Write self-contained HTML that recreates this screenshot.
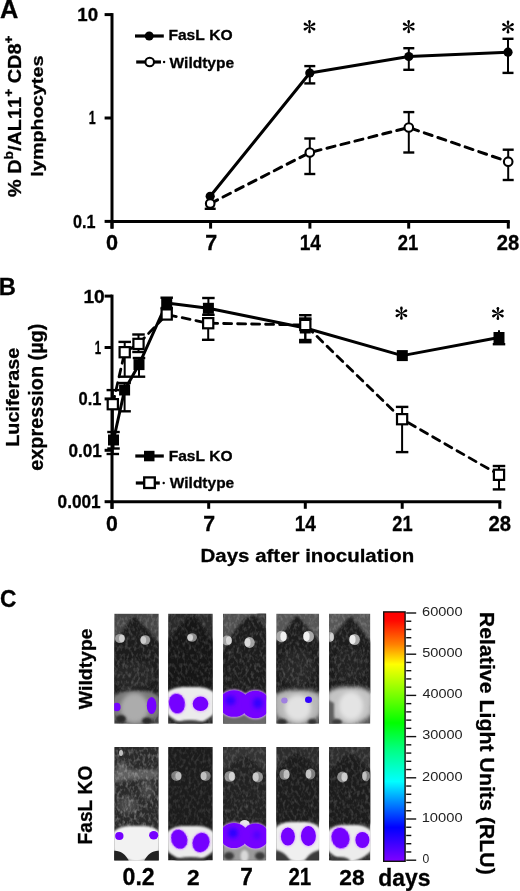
<!DOCTYPE html>
<html><head><meta charset="utf-8"><title>Figure</title>
<style>
html,body{margin:0;padding:0;background:#fff;}
body{width:520px;height:891px;overflow:hidden;}
svg{display:block;filter:blur(0.4px);}
text{font-family:"Liberation Sans", sans-serif;font-kerning:none;} text[font-weight="bold"]{stroke:#000;stroke-width:0.3px;}
</style></head>
<body>
<svg width="520" height="891" viewBox="0 0 520 891">
<defs>
<filter id="b05" x="-50%" y="-50%" width="200%" height="200%"><feGaussianBlur stdDeviation="0.5"/></filter>
<filter id="b1" x="-50%" y="-50%" width="200%" height="200%"><feGaussianBlur stdDeviation="1"/></filter>
<filter id="b15" x="-50%" y="-50%" width="200%" height="200%"><feGaussianBlur stdDeviation="1.5"/></filter>
<filter id="b2" x="-50%" y="-50%" width="200%" height="200%"><feGaussianBlur stdDeviation="2.2"/></filter>
<filter id="fur" x="0" y="0" width="100%" height="100%" filterUnits="objectBoundingBox">
<feTurbulence type="fractalNoise" baseFrequency="0.35 0.22" numOctaves="2" seed="7" result="n"/>
<feColorMatrix in="n" type="matrix" values="0 0 0 0 1  0 0 0 0 1  0 0 0 0 1  2.2 0 0 0 -0.95"/>
<feComposite in2="SourceGraphic" operator="in"/>
</filter>
<linearGradient id="cbar" x1="0" y1="0" x2="0" y2="1">
<stop offset="0" stop-color="#ff0000"/>
<stop offset="0.035" stop-color="#ff0800"/>
<stop offset="0.13" stop-color="#ff8000"/>
<stop offset="0.21" stop-color="#ffff00"/>
<stop offset="0.445" stop-color="#00ff00"/>
<stop offset="0.55" stop-color="#00ff80"/>
<stop offset="0.68" stop-color="#00ffff"/>
<stop offset="0.77" stop-color="#0080ff"/>
<stop offset="0.864" stop-color="#0000ff"/>
<stop offset="1" stop-color="#8000ff"/>
</linearGradient>
<g id="ast"><g transform="rotate(0)"><path d="M-0.3,0 L-1.25,-4.9 L1.25,-4.9 L0.3,0 Z"/><circle cx="0" cy="-5.3" r="1.3"/></g><g transform="rotate(60)"><path d="M-0.3,0 L-1.25,-4.9 L1.25,-4.9 L0.3,0 Z"/><circle cx="0" cy="-5.3" r="1.3"/></g><g transform="rotate(120)"><path d="M-0.3,0 L-1.25,-4.9 L1.25,-4.9 L0.3,0 Z"/><circle cx="0" cy="-5.3" r="1.3"/></g><g transform="rotate(180)"><path d="M-0.3,0 L-1.25,-4.9 L1.25,-4.9 L0.3,0 Z"/><circle cx="0" cy="-5.3" r="1.3"/></g><g transform="rotate(240)"><path d="M-0.3,0 L-1.25,-4.9 L1.25,-4.9 L0.3,0 Z"/><circle cx="0" cy="-5.3" r="1.3"/></g><g transform="rotate(300)"><path d="M-0.3,0 L-1.25,-4.9 L1.25,-4.9 L0.3,0 Z"/><circle cx="0" cy="-5.3" r="1.3"/></g></g>
</defs>
<rect x="0" y="0" width="520" height="891" fill="#fff"/>
<g opacity="0.999">
<text transform="translate(0.12,17.55) scale(0.9855,1)" font-size="25.75" font-weight="bold" fill="#000">A</text>
<line x1="112.0" y1="13.1" x2="112.0" y2="228.6" stroke="#000" stroke-width="3" />
<line x1="104.6" y1="14.6" x2="112.0" y2="14.6" stroke="#000" stroke-width="3" />
<line x1="104.6" y1="118.0" x2="112.0" y2="118.0" stroke="#000" stroke-width="3" />
<line x1="104.6" y1="221.4" x2="112.0" y2="221.4" stroke="#000" stroke-width="3" />
<line x1="112.0" y1="221.4" x2="509.8" y2="221.4" stroke="#000" stroke-width="3" />
<line x1="112.0" y1="221.4" x2="112.0" y2="228.6" stroke="#000" stroke-width="3" />
<line x1="210.6" y1="221.4" x2="210.6" y2="228.6" stroke="#000" stroke-width="3" />
<line x1="309.9" y1="221.4" x2="309.9" y2="228.6" stroke="#000" stroke-width="3" />
<line x1="408.7" y1="221.4" x2="408.7" y2="228.6" stroke="#000" stroke-width="3" />
<line x1="508.3" y1="221.4" x2="508.3" y2="228.6" stroke="#000" stroke-width="3" />
<text transform="translate(77.28,20.67) scale(1.0647,1)" font-size="17.53" font-weight="bold" fill="#000">10</text>
<text transform="translate(88.77,124.15) scale(0.6860,1)" font-size="18.18" font-weight="bold" fill="#000">1</text>
<text transform="translate(73.00,227.56) scale(0.8739,1)" font-size="18.52" font-weight="bold" fill="#000">0.1</text>
<text transform="translate(106.08,250.23) scale(0.9710,1)" font-size="22.33" font-weight="bold" fill="#000">0</text>
<text transform="translate(205.34,250.25) scale(0.9470,1)" font-size="22.69" font-weight="bold" fill="#000">7</text>
<text transform="translate(299.66,249.95) scale(0.8749,1)" font-size="21.82" font-weight="bold" fill="#000">14</text>
<text transform="translate(397.81,250.25) scale(0.8291,1)" font-size="22.22" font-weight="bold" fill="#000">21</text>
<text transform="translate(496.74,250.23) scale(0.9099,1)" font-size="22.19" font-weight="bold" fill="#000">28</text>
<line x1="309.8" y1="138.5" x2="309.8" y2="174.0" stroke="#000" stroke-width="2.0"/>
<line x1="304.3" y1="138.5" x2="315.3" y2="138.5" stroke="#000" stroke-width="2.4"/>
<line x1="304.3" y1="174.0" x2="315.3" y2="174.0" stroke="#000" stroke-width="2.4"/>
<line x1="408.8" y1="112.1" x2="408.8" y2="152.5" stroke="#000" stroke-width="2.0"/>
<line x1="403.3" y1="112.1" x2="414.3" y2="112.1" stroke="#000" stroke-width="2.4"/>
<line x1="403.3" y1="152.5" x2="414.3" y2="152.5" stroke="#000" stroke-width="2.4"/>
<line x1="508.2" y1="149.7" x2="508.2" y2="180.0" stroke="#000" stroke-width="2.0"/>
<line x1="502.7" y1="149.7" x2="513.7" y2="149.7" stroke="#000" stroke-width="2.4"/>
<line x1="502.7" y1="180.0" x2="513.7" y2="180.0" stroke="#000" stroke-width="2.4"/>
<line x1="204.7" y1="208.8" x2="215.7" y2="208.8" stroke="#000" stroke-width="2.4"/>
<line x1="210.2" y1="203.6" x2="210.2" y2="208.8" stroke="#000" stroke-width="2" />
<line x1="309.8" y1="66.1" x2="309.8" y2="83.4" stroke="#000" stroke-width="2.0"/>
<line x1="304.3" y1="66.1" x2="315.3" y2="66.1" stroke="#000" stroke-width="2.4"/>
<line x1="304.3" y1="83.4" x2="315.3" y2="83.4" stroke="#000" stroke-width="2.4"/>
<line x1="408.8" y1="48.2" x2="408.8" y2="69.8" stroke="#000" stroke-width="2.0"/>
<line x1="403.3" y1="48.2" x2="414.3" y2="48.2" stroke="#000" stroke-width="2.4"/>
<line x1="403.3" y1="69.8" x2="414.3" y2="69.8" stroke="#000" stroke-width="2.4"/>
<line x1="508.0" y1="38.8" x2="508.0" y2="72.9" stroke="#000" stroke-width="2.0"/>
<line x1="502.5" y1="38.8" x2="513.5" y2="38.8" stroke="#000" stroke-width="2.4"/>
<line x1="502.5" y1="72.9" x2="513.5" y2="72.9" stroke="#000" stroke-width="2.4"/>
<polyline points="210.2,203.6 309.8,152.5 408.8,127.5 508.2,161.7" fill="none" stroke="#000" stroke-width="3" stroke-linejoin="round" stroke-linecap="round" stroke-dasharray="8.3 6.1"/>
<polyline points="210.2,196.3 309.8,73.0 408.8,56.5 508.0,52.2" fill="none" stroke="#000" stroke-width="3" stroke-linejoin="round" stroke-linecap="butt"/>
<circle cx="210.2" cy="196.3" r="4.6" fill="#000"/>
<circle cx="309.8" cy="73.0" r="4.6" fill="#000"/>
<circle cx="408.8" cy="56.5" r="4.6" fill="#000"/>
<circle cx="508.0" cy="52.2" r="4.6" fill="#000"/>
<circle cx="210.2" cy="203.6" r="4.3" fill="#fff" stroke="#000" stroke-width="2.1"/>
<circle cx="309.8" cy="152.5" r="4.3" fill="#fff" stroke="#000" stroke-width="2.1"/>
<circle cx="408.8" cy="127.5" r="4.3" fill="#fff" stroke="#000" stroke-width="2.1"/>
<circle cx="508.2" cy="161.7" r="4.3" fill="#fff" stroke="#000" stroke-width="2.1"/>
<use href="#ast" transform="translate(309.5,26.6) scale(1.0)"/>
<use href="#ast" transform="translate(408.7,26.6) scale(1.0)"/>
<use href="#ast" transform="translate(508.0,27.0) scale(1.0)"/>
<line x1="135.0" y1="36.0" x2="163.8" y2="36.0" stroke="#000" stroke-width="3.2" />
<circle cx="149.2" cy="36.0" r="4.5" fill="#000"/>
<line x1="136.2" y1="62" x2="161" y2="62" stroke="#000" stroke-width="3.2" stroke-dasharray="0"/>
<circle cx="164.1" cy="62" r="1.2" fill="#000"/>
<circle cx="149.7" cy="62" r="4.3" fill="#fff" stroke="#000" stroke-width="2.1"/>
<text transform="translate(168.40,40.20) scale(1.0625,1)" font-size="14.70" font-weight="bold" fill="#000">FasL KO</text>
<text transform="translate(169.41,67.65) scale(1.0069,1)" font-size="15.44" font-weight="bold" fill="#000">Wildtype</text>
<text transform="translate(21.45,197.05) rotate(-90) scale(1.0631,1)" font-size="18.75" font-weight="bold" xml:space="preserve"><tspan font-size="18.75">% D</tspan><tspan font-size="12.80" dy="-8.25">b</tspan><tspan font-size="18.75" dy="8.25">/AL11</tspan><tspan font-size="12.80" dy="-8.25">+</tspan><tspan font-size="18.75" dy="8.25"> CD8</tspan><tspan font-size="12.80" dy="-8.25">+</tspan></text>
<text transform="translate(43.00,176.64) rotate(-90) scale(1.1733,1)" font-size="16.90" font-weight="bold" fill="#000">lymphocytes</text>
<text transform="translate(-1.15,295.35) scale(0.9670,1)" font-size="24.58" font-weight="bold" fill="#000">B</text>
<line x1="112.0" y1="294.6" x2="112.0" y2="508.8" stroke="#000" stroke-width="3" />
<line x1="104.6" y1="296.1" x2="112.0" y2="296.1" stroke="#000" stroke-width="3" />
<line x1="104.6" y1="347.5" x2="112.0" y2="347.5" stroke="#000" stroke-width="3" />
<line x1="104.6" y1="398.9" x2="112.0" y2="398.9" stroke="#000" stroke-width="3" />
<line x1="104.6" y1="450.3" x2="112.0" y2="450.3" stroke="#000" stroke-width="3" />
<line x1="104.6" y1="501.7" x2="112.0" y2="501.7" stroke="#000" stroke-width="3" />
<line x1="112.0" y1="501.8" x2="501.3" y2="501.8" stroke="#000" stroke-width="3" />
<line x1="112.0" y1="501.8" x2="112.0" y2="508.8" stroke="#000" stroke-width="3" />
<line x1="208.7" y1="501.8" x2="208.7" y2="508.8" stroke="#000" stroke-width="3" />
<line x1="305.3" y1="501.8" x2="305.3" y2="508.8" stroke="#000" stroke-width="3" />
<line x1="402.2" y1="501.8" x2="402.2" y2="508.8" stroke="#000" stroke-width="3" />
<line x1="499.8" y1="501.8" x2="499.8" y2="508.8" stroke="#000" stroke-width="3" />
<text transform="translate(83.45,302.57) scale(1.0672,1)" font-size="17.95" font-weight="bold" fill="#000">10</text>
<text transform="translate(94.74,353.55) scale(0.6074,1)" font-size="18.76" font-weight="bold" fill="#000">1</text>
<text transform="translate(78.59,405.36) scale(0.8769,1)" font-size="18.80" font-weight="bold" fill="#000">0.1</text>
<text transform="translate(68.46,456.57) scale(0.9334,1)" font-size="18.37" font-weight="bold" fill="#000">0.01</text>
<text transform="translate(57.56,507.87) scale(0.9387,1)" font-size="18.37" font-weight="bold" fill="#000">0.001</text>
<text transform="translate(105.90,531.12) scale(0.9344,1)" font-size="22.76" font-weight="bold" fill="#000">0</text>
<text transform="translate(203.25,530.85) scale(0.9377,1)" font-size="22.69" font-weight="bold" fill="#000">7</text>
<text transform="translate(294.76,530.85) scale(0.8522,1)" font-size="22.40" font-weight="bold" fill="#000">14</text>
<text transform="translate(392.31,530.85) scale(0.8259,1)" font-size="22.08" font-weight="bold" fill="#000">21</text>
<text transform="translate(488.54,530.64) scale(0.9505,1)" font-size="21.34" font-weight="bold" fill="#000">28</text>
<text transform="translate(200.57,562.07) scale(1.0661,1)" font-size="19.20" font-weight="bold" fill="#000">Days after inoculation</text>
<line x1="113.5" y1="432.0" x2="113.5" y2="448.5" stroke="#000" stroke-width="2.0"/>
<line x1="107.25" y1="432.0" x2="119.75" y2="432.0" stroke="#000" stroke-width="2.4"/>
<line x1="107.25" y1="448.5" x2="119.75" y2="448.5" stroke="#000" stroke-width="2.4"/>
<line x1="124.6" y1="383.0" x2="124.6" y2="411.3" stroke="#000" stroke-width="2.0"/>
<line x1="118.35" y1="383.0" x2="130.85" y2="383.0" stroke="#000" stroke-width="2.4"/>
<line x1="118.35" y1="411.3" x2="130.85" y2="411.3" stroke="#000" stroke-width="2.4"/>
<line x1="139.0" y1="358.0" x2="139.0" y2="376.7" stroke="#000" stroke-width="2.0"/>
<line x1="132.75" y1="358.0" x2="145.25" y2="358.0" stroke="#000" stroke-width="2.4"/>
<line x1="132.75" y1="376.7" x2="145.25" y2="376.7" stroke="#000" stroke-width="2.4"/>
<line x1="166.7" y1="297.7" x2="166.7" y2="308.0" stroke="#000" stroke-width="2.0"/>
<line x1="160.45" y1="297.7" x2="172.95" y2="297.7" stroke="#000" stroke-width="2.4"/>
<line x1="160.45" y1="308.0" x2="172.95" y2="308.0" stroke="#000" stroke-width="2.4"/>
<line x1="208.4" y1="298.0" x2="208.4" y2="314.8" stroke="#000" stroke-width="2.0"/>
<line x1="202.15" y1="298.0" x2="214.65" y2="298.0" stroke="#000" stroke-width="2.4"/>
<line x1="202.15" y1="314.8" x2="214.65" y2="314.8" stroke="#000" stroke-width="2.4"/>
<line x1="305.3" y1="315.2" x2="305.3" y2="342.2" stroke="#000" stroke-width="2.0"/>
<line x1="299.05" y1="315.2" x2="311.55" y2="315.2" stroke="#000" stroke-width="2.4"/>
<line x1="299.05" y1="342.2" x2="311.55" y2="342.2" stroke="#000" stroke-width="2.4"/>
<line x1="492.75" y1="344.2" x2="505.25" y2="344.2" stroke="#000" stroke-width="2.4"/>
<line x1="499.0" y1="330.2" x2="499.0" y2="344.2" stroke="#000" stroke-width="2" />
<line x1="112.8" y1="390.1" x2="112.8" y2="454.0" stroke="#000" stroke-width="2.0"/>
<line x1="106.55" y1="390.1" x2="119.05" y2="390.1" stroke="#000" stroke-width="2.4"/>
<line x1="106.55" y1="454.0" x2="119.05" y2="454.0" stroke="#000" stroke-width="2.4"/>
<line x1="124.7" y1="341.9" x2="124.7" y2="376.7" stroke="#000" stroke-width="2.0"/>
<line x1="118.45" y1="341.9" x2="130.95" y2="341.9" stroke="#000" stroke-width="2.4"/>
<line x1="118.45" y1="376.7" x2="130.95" y2="376.7" stroke="#000" stroke-width="2.4"/>
<line x1="138.5" y1="334.5" x2="138.5" y2="352.0" stroke="#000" stroke-width="2.0"/>
<line x1="132.25" y1="334.5" x2="144.75" y2="334.5" stroke="#000" stroke-width="2.4"/>
<line x1="132.25" y1="352.0" x2="144.75" y2="352.0" stroke="#000" stroke-width="2.4"/>
<line x1="201.95" y1="339.8" x2="214.45" y2="339.8" stroke="#000" stroke-width="2.4"/>
<line x1="208.2" y1="325.8" x2="208.2" y2="339.8" stroke="#000" stroke-width="2" />
<line x1="305.3" y1="318.5" x2="305.3" y2="340.0" stroke="#000" stroke-width="2.0"/>
<line x1="299.05" y1="318.5" x2="311.55" y2="318.5" stroke="#000" stroke-width="2.4"/>
<line x1="299.05" y1="340.0" x2="311.55" y2="340.0" stroke="#000" stroke-width="2.4"/>
<line x1="402.1" y1="406.9" x2="402.1" y2="452.1" stroke="#000" stroke-width="2.0"/>
<line x1="395.85" y1="406.9" x2="408.35" y2="406.9" stroke="#000" stroke-width="2.4"/>
<line x1="395.85" y1="452.1" x2="408.35" y2="452.1" stroke="#000" stroke-width="2.4"/>
<line x1="499.0" y1="466.0" x2="499.0" y2="489.4" stroke="#000" stroke-width="2.0"/>
<line x1="492.75" y1="466.0" x2="505.25" y2="466.0" stroke="#000" stroke-width="2.4"/>
<line x1="492.75" y1="489.4" x2="505.25" y2="489.4" stroke="#000" stroke-width="2.4"/>
<polyline points="112.8,404.2 124.7,352.2 138.5,343.9 166.7,314.5 208.2,323.2 305.3,325.0 402.1,419.2 499.0,474.8" fill="none" stroke="#000" stroke-width="2.8" stroke-linejoin="round" stroke-linecap="round" stroke-dasharray="8 6"/>
<polyline points="113.5,440.0 124.6,390.0 139.0,364.6 166.7,303.0 208.4,308.3 305.3,328.0 402.3,355.6 499.0,337.5" fill="none" stroke="#000" stroke-width="3" stroke-linejoin="round" stroke-linecap="butt"/>
<rect x="108.0" y="434.5" width="11" height="11" fill="#000"/>
<rect x="119.1" y="384.5" width="11" height="11" fill="#000"/>
<rect x="133.5" y="359.1" width="11" height="11" fill="#000"/>
<rect x="161.2" y="297.5" width="11" height="11" fill="#000"/>
<rect x="202.9" y="302.8" width="11" height="11" fill="#000"/>
<rect x="299.8" y="322.5" width="11" height="11" fill="#000"/>
<rect x="396.8" y="350.1" width="11" height="11" fill="#000"/>
<rect x="493.5" y="332.0" width="11" height="11" fill="#000"/>
<rect x="107.7" y="399.1" width="10.2" height="10.2" fill="#fff" stroke="#000" stroke-width="2.2"/>
<rect x="119.6" y="347.1" width="10.2" height="10.2" fill="#fff" stroke="#000" stroke-width="2.2"/>
<rect x="133.4" y="338.8" width="10.2" height="10.2" fill="#fff" stroke="#000" stroke-width="2.2"/>
<rect x="161.6" y="309.4" width="10.2" height="10.2" fill="#fff" stroke="#000" stroke-width="2.2"/>
<rect x="203.1" y="318.1" width="10.2" height="10.2" fill="#fff" stroke="#000" stroke-width="2.2"/>
<rect x="300.2" y="319.9" width="10.2" height="10.2" fill="#fff" stroke="#000" stroke-width="2.2"/>
<rect x="397.0" y="414.1" width="10.2" height="10.2" fill="#fff" stroke="#000" stroke-width="2.2"/>
<rect x="493.9" y="469.7" width="10.2" height="10.2" fill="#fff" stroke="#000" stroke-width="2.2"/>
<use href="#ast" transform="translate(401.4,313.2) scale(1.0)"/>
<use href="#ast" transform="translate(497.9,313.5) scale(1.0)"/>
<line x1="135.3" y1="456.0" x2="163.8" y2="456.0" stroke="#000" stroke-width="3.2" />
<rect x="144.0" y="450.8" width="10.5" height="10.5" fill="#000"/>
<line x1="135.8" y1="483.0" x2="159.8" y2="483.0" stroke="#000" stroke-width="3.2" />
<circle cx="163.7" cy="483" r="1.2" fill="#000"/>
<rect x="144.2" y="477.4" width="10.6" height="10.6" fill="#fff" stroke="#000" stroke-width="2.3"/>
<text transform="translate(168.70,460.60) scale(1.0676,1)" font-size="14.56" font-weight="bold" fill="#000">FasL KO</text>
<text transform="translate(169.71,487.57) scale(1.0092,1)" font-size="15.34" font-weight="bold" fill="#000">Wildtype</text>
<text transform="translate(18.76,446.79) rotate(-90) scale(1.0473,1)" font-size="18.91" font-weight="bold" fill="#000">Luciferase</text>
<text transform="translate(42.75,470.74) rotate(-90) scale(1.0281,1)" font-size="19.31" font-weight="bold" fill="#000">expression (µg)</text>
<text transform="translate(-0.06,607.01) scale(0.9357,1)" font-size="24.31" font-weight="bold" fill="#000">C</text>
<text transform="translate(92.16,709.20) rotate(-90) scale(1.0887,1)" font-size="17.80" font-weight="bold" fill="#000">Wildtype</text>
<text transform="translate(92.30,844.44) rotate(-90) scale(0.9803,1)" font-size="19.57" font-weight="bold" fill="#000">FasL KO</text>
<clipPath id="clip00"><rect x="114.2" y="613.6" width="44.6" height="110.2"/></clipPath>
<g clip-path="url(#clip00)">
<rect x="114.2" y="613.6" width="44.60000000000001" height="110.19999999999993" fill="#464646"/>
<path d="M134.0,616.5 C137.0,617.0 150.8,633.4 159.8,643.4 L159.8,701.8 L113.2,701.8 L113.2,643.4 C122.2,633.4 131.0,617.0 134.0,616.5 Z" fill="#1e1e1e" filter="url(#b1)"/>
<ellipse cx="134" cy="675" rx="20" ry="14" fill="#282828" filter="url(#b2)"/>
<rect x="114.2" y="613.6" width="44.6" height="110.2" fill="#fff" filter="url(#fur)" opacity="0.22"/>
<path d="M112.2,698 C120.2,689.8 128.5,691 136.5,691 C144.5,691 152.8,689.8 160.8,698 L159.8,713.8 C154.8,719.8 142.5,724.8 136.5,725.8 C130.5,724.8 118.2,719.8 113.2,713.8 Z" fill="#7a7a7a" filter="url(#b15)"/>
<ellipse cx="134.5" cy="708" rx="14" ry="15" fill="#acacac" filter="url(#b2)"/>
<ellipse cx="121" cy="719" rx="5" ry="4" fill="#2a2a2a" filter="url(#b1)"/>
<ellipse cx="147" cy="721" rx="5" ry="3.5" fill="#2a2a2a" filter="url(#b1)"/>
<ellipse cx="120.0" cy="638.5" rx="5.0" ry="4.6" fill="#9a9a9a" filter="url(#b05)"/><ellipse cx="121.75" cy="638.5" rx="2.75" ry="3.6799999999999997" fill="#d0d0d0" filter="url(#b05)"/>
<ellipse cx="145.2" cy="640.0" rx="5.0" ry="4.8" fill="#9a9a9a" filter="url(#b05)"/><ellipse cx="143.45" cy="640.0" rx="2.75" ry="3.84" fill="#cccccc" filter="url(#b05)"/>
<ellipse cx="116.8" cy="707.0" rx="3.8" ry="4.3" fill="#7400ff" filter="url(#b05)"/>
<ellipse cx="151.6" cy="705.5" rx="4.8" ry="8.6" fill="#7400ff" filter="url(#b05)"/>
</g>
<clipPath id="clip01"><rect x="168.1" y="613.6" width="44.7" height="110.2"/></clipPath>
<g clip-path="url(#clip01)">
<rect x="168.1" y="613.6" width="44.70000000000002" height="110.19999999999993" fill="#2a2a2a"/>
<path d="M192.0,615.0 C195.0,615.5 204.8,631.1 213.8,641.1 L213.8,690.7 L167.1,690.7 L167.1,641.1 C176.1,631.1 189.0,615.5 192.0,615.0 Z" fill="#161616" filter="url(#b1)"/>
<ellipse cx="192.0" cy="637.5" rx="5.0" ry="4.2" fill="#8a8a8a" filter="url(#b05)"/><ellipse cx="190.25" cy="637.5" rx="2.75" ry="3.3600000000000003" fill="#cfcfcf" filter="url(#b05)"/>
<rect x="168.1" y="613.6" width="44.7" height="110.2" fill="#fff" filter="url(#fur)" opacity="0.18"/>
<path d="M166.1,693 C174.1,686.1 182.45,687 190.45,687 C198.45,687 206.8,686.1 214.8,693 L213.8,713.8 C208.8,719.8 196.45,724.8 190.45,725.8 C184.45,724.8 172.1,719.8 167.1,713.8 Z" fill="#ececec" filter="url(#b1)"/>
<ellipse cx="190" cy="724" rx="14" ry="4" fill="#404040" filter="url(#b1)"/>
<ellipse cx="176.9" cy="703.5" rx="8.7" ry="10.8" fill="#dca8ff" filter="url(#b1)" transform="rotate(-10 176.9 703.5)"/>
<ellipse cx="200.5" cy="703.8" rx="8.5" ry="8.0" fill="#dca8ff" filter="url(#b1)"/>
<ellipse cx="176.9" cy="703.5" rx="8.0" ry="10.1" fill="#7400ff" filter="url(#b05)" transform="rotate(-10 176.9 703.5)"/>
<ellipse cx="200.5" cy="703.8" rx="7.8" ry="7.3" fill="#7400ff" filter="url(#b05)"/>
</g>
<clipPath id="clip02"><rect x="223.0" y="613.6" width="43.2" height="110.2"/></clipPath>
<g clip-path="url(#clip02)">
<rect x="223.0" y="613.6" width="43.19999999999999" height="110.19999999999993" fill="#505050"/>
<path d="M256,612.6 L267.2,612.6 L267.2,625.6 Z" fill="#303030" filter="url(#b1)"/>
<path d="M252,614.6 C256,614.6 266.2,625.6 267.2,633.6 L267.2,700 L222.0,700 L222.0,652 C229.0,640 240,620 252,614.6 Z" fill="#1c1c1c" filter="url(#b1)"/>
<ellipse cx="227.0" cy="640.5" rx="5.0" ry="5.0" fill="#a0a0a0" filter="url(#b05)"/><ellipse cx="228.75" cy="640.5" rx="2.75" ry="4.0" fill="#d4d4d4" filter="url(#b05)"/>
<ellipse cx="249.5" cy="642.5" rx="5.2" ry="5.4" fill="#a0a0a0" filter="url(#b05)"/><ellipse cx="247.68" cy="642.5" rx="2.8600000000000003" ry="4.32" fill="#dadada" filter="url(#b05)"/>
<rect x="223.0" y="613.6" width="43.2" height="110.2" fill="#fff" filter="url(#fur)" opacity="0.22"/>
<rect x="223.0" y="712" width="43.19999999999999" height="13" fill="#6a6a6a" filter="url(#b1)"/>
<ellipse cx="234.0" cy="703.5" rx="15.7" ry="14.0" fill="#dca8ff" filter="url(#b1)"/>
<ellipse cx="255.5" cy="704.5" rx="15.2" ry="14.5" fill="#dca8ff" filter="url(#b1)"/>
<ellipse cx="234.0" cy="703.5" rx="15.0" ry="13.3" fill="#7400ff" filter="url(#b05)"/>
<ellipse cx="255.5" cy="704.5" rx="14.5" ry="13.8" fill="#7400ff" filter="url(#b05)"/>
<ellipse cx="230.5" cy="700.5" rx="5" ry="5" fill="#3000ff" filter="url(#b2)"/>
<ellipse cx="257.8" cy="703" rx="5" ry="5.5" fill="#3000ff" filter="url(#b2)"/>
</g>
<clipPath id="clip03"><rect x="276.2" y="613.6" width="43.0" height="110.2"/></clipPath>
<g clip-path="url(#clip03)">
<rect x="276.2" y="613.6" width="43.0" height="110.19999999999993" fill="#565656"/>
<path d="M297.0,616.0 C300.0,616.5 311.2,632.3 320.2,642.3 L320.2,692.9 L275.2,692.9 L275.2,642.3 C284.2,632.3 294.0,616.5 297.0,616.0 Z" fill="#1e1e1e" filter="url(#b1)"/>
<ellipse cx="297" cy="668" rx="18" ry="18" fill="#262626" filter="url(#b2)"/>
<rect x="276.2" y="613.6" width="43.0" height="110.2" fill="#fff" filter="url(#fur)" opacity="0.22"/>
<path d="M274.2,697 C282.2,688.8 289.7,690 297.7,690 C305.7,690 313.2,688.8 321.2,697 L320.2,713.8 C315.2,719.8 303.7,724.8 297.7,725.8 C291.7,724.8 280.2,719.8 275.2,713.8 Z" fill="#b8b8b8" filter="url(#b2)"/>
<ellipse cx="298" cy="708" rx="13" ry="13" fill="#e2e2e2" filter="url(#b2)"/>
<ellipse cx="282" cy="722" rx="5" ry="3" fill="#303030" filter="url(#b1)"/>
<ellipse cx="312" cy="722" rx="4" ry="3" fill="#303030" filter="url(#b1)"/>
<ellipse cx="281.5" cy="636.5" rx="5.5" ry="5.8" fill="#a8a8a8" filter="url(#b05)"/><ellipse cx="283.425" cy="636.5" rx="3.0250000000000004" ry="4.64" fill="#f0f0f0" filter="url(#b05)"/>
<ellipse cx="308.5" cy="636.5" rx="5.5" ry="5.8" fill="#a8a8a8" filter="url(#b05)"/><ellipse cx="306.575" cy="636.5" rx="3.0250000000000004" ry="4.64" fill="#f0f0f0" filter="url(#b05)"/>
<ellipse cx="284.4" cy="700.5" rx="3.2" ry="3.0" fill="#a080e0" filter="url(#b05)"/>
<ellipse cx="308.5" cy="699.8" rx="3.5" ry="3.2" fill="#3000ff" filter="url(#b05)"/>
</g>
<clipPath id="clip04"><rect x="329.0" y="613.6" width="41.4" height="110.2"/></clipPath>
<g clip-path="url(#clip04)">
<rect x="329.0" y="613.6" width="41.39999999999998" height="110.19999999999993" fill="#575757"/>
<path d="M351.0,617.0 C354.0,617.5 362.4,632.3 371.4,642.3 L371.4,692.9 L328.0,692.9 L328.0,642.3 C337.0,632.3 348.0,617.5 351.0,617.0 Z" fill="#1c1c1c" filter="url(#b1)"/>
<ellipse cx="350" cy="665" rx="16" ry="18" fill="#242424" filter="url(#b2)"/>
<rect x="329.0" y="613.6" width="41.4" height="110.2" fill="#fff" filter="url(#fur)" opacity="0.22"/>
<path d="M327.0,694 C335.0,685.8 341.7,687 349.7,687 C357.7,687 364.4,685.8 372.4,694 L371.4,713.8 C366.4,719.8 355.7,724.8 349.7,725.8 C343.7,724.8 333.0,719.8 328.0,713.8 Z" fill="#c4c4c4" filter="url(#b2)"/>
<ellipse cx="351" cy="706" rx="12" ry="14" fill="#e4e4e4" filter="url(#b2)"/>
<path d="M328.0,700 L334.0,703 L334.0,724.8 L328.0,724.8 Z" fill="#606060" filter="url(#b1)"/>
<ellipse cx="337" cy="722" rx="5" ry="3" fill="#3a3a3a" filter="url(#b1)"/>
<ellipse cx="354.5" cy="639.5" rx="5.4" ry="5.6" fill="#a8a8a8" filter="url(#b05)"/><ellipse cx="352.61" cy="639.5" rx="2.9700000000000006" ry="4.4799999999999995" fill="#ececec" filter="url(#b05)"/>
<ellipse cx="330.5" cy="637.0" rx="3.5" ry="5.0" fill="#a0a0a0" filter="url(#b05)"/><ellipse cx="331.725" cy="637.0" rx="1.9250000000000003" ry="4.0" fill="#d0d0d0" filter="url(#b05)"/>
</g>
<clipPath id="clip10"><rect x="114.2" y="747.0" width="44.6" height="113.5"/></clipPath>
<g clip-path="url(#clip10)">
<rect x="114.2" y="747.0" width="44.60000000000001" height="113.5" fill="#2a2a2a"/>
<path d="M114.2,771.0 C124,766 134,772 158.8,769.0 L158.8,777.0 C140,782 125,778 114.2,783.0 Z" fill="#5e5e5e" filter="url(#b15)"/>
<ellipse cx="121" cy="753" rx="2" ry="3" fill="#c0c0c0" filter="url(#b05)"/>
<ellipse cx="122" cy="770" rx="5" ry="8" fill="#606060" filter="url(#b2)"/>
<ellipse cx="147" cy="790" rx="7" ry="10" fill="#454545" filter="url(#b2)"/>
<ellipse cx="128" cy="805" rx="10" ry="9" fill="#484848" filter="url(#b2)"/>
<rect x="114.2" y="747.0" width="44.6" height="113.5" fill="#fff" filter="url(#fur)" opacity="0.35"/>
<path d="M112.2,833 C120.2,824.8 128.5,826 136.5,826 C144.5,826 152.8,824.8 160.8,833 L159.8,850.5 C154.8,856.5 142.5,861.5 136.5,862.5 C130.5,861.5 118.2,856.5 113.2,850.5 Z" fill="#f2f2f2" filter="url(#b1)"/>
<path d="M113.2,861.5 L113.2,851 C119,850 126,854 129,861.5 Z" fill="#222222" filter="url(#b05)"/>
<path d="M159.8,861.5 L159.8,851 C154,850 147,854 144,861.5 Z" fill="#222222" filter="url(#b05)"/>
<ellipse cx="119.3" cy="836.0" rx="4.2" ry="4.0" fill="#7400ff" filter="url(#b05)"/>
<ellipse cx="153.7" cy="835.3" rx="4.6" ry="4.2" fill="#7400ff" filter="url(#b05)"/>
</g>
<clipPath id="clip11"><rect x="168.1" y="747.0" width="44.7" height="113.5"/></clipPath>
<g clip-path="url(#clip11)">
<rect x="168.1" y="747.0" width="44.70000000000002" height="113.5" fill="#1c1c1c"/>
<ellipse cx="176.5" cy="776.0" rx="5.2" ry="5.0" fill="#7a7a7a" filter="url(#b05)"/><ellipse cx="178.32" cy="776.0" rx="2.8600000000000003" ry="4.0" fill="#b8b8b8" filter="url(#b05)"/>
<ellipse cx="205.5" cy="776.0" rx="5.2" ry="5.0" fill="#7a7a7a" filter="url(#b05)"/><ellipse cx="203.68" cy="776.0" rx="2.8600000000000003" ry="4.0" fill="#c0c0c0" filter="url(#b05)"/>
<rect x="168.1" y="747.0" width="44.7" height="113.5" fill="#fff" filter="url(#fur)" opacity="0.15"/>
<path d="M166.1,833 C174.1,824.8 182.45,826 190.45,826 C198.45,826 206.8,824.8 214.8,833 L213.8,850.5 C208.8,856.5 196.45,861.5 190.45,862.5 C184.45,861.5 172.1,856.5 167.1,850.5 Z" fill="#ececec" filter="url(#b1)"/>
<ellipse cx="190.5" cy="861" rx="16" ry="4" fill="#3a3a3a" filter="url(#b1)"/>
<ellipse cx="179.2" cy="839.2" rx="8.7" ry="10.7" fill="#dca8ff" filter="url(#b1)" transform="rotate(-20 179.2 839.2)"/>
<ellipse cx="201.0" cy="842.5" rx="9.1" ry="10.7" fill="#dca8ff" filter="url(#b1)" transform="rotate(20 201.0 842.5)"/>
<ellipse cx="179.2" cy="839.2" rx="8.0" ry="10.0" fill="#7400ff" filter="url(#b05)" transform="rotate(-20 179.2 839.2)"/>
<ellipse cx="201.0" cy="842.5" rx="8.4" ry="10.0" fill="#7400ff" filter="url(#b05)" transform="rotate(20 201.0 842.5)"/>
</g>
<clipPath id="clip12"><rect x="223.0" y="747.0" width="43.2" height="113.5"/></clipPath>
<g clip-path="url(#clip12)">
<rect x="223.0" y="747.0" width="43.19999999999999" height="113.5" fill="#333333"/>
<path d="M244.0,756.0 C247.0,756.5 258.2,764.2 267.2,774.2 L267.2,826.5 L222.0,826.5 L222.0,774.2 C231.0,764.2 241.0,756.5 244.0,756.0 Z" fill="#222222" filter="url(#b1)"/>
<ellipse cx="229.9" cy="776.4" rx="5.4" ry="5.4" fill="#8a8a8a" filter="url(#b05)"/><ellipse cx="231.79" cy="776.4" rx="2.9700000000000006" ry="4.32" fill="#d0d0d0" filter="url(#b05)"/>
<ellipse cx="257.7" cy="777.0" rx="5.4" ry="5.4" fill="#8a8a8a" filter="url(#b05)"/><ellipse cx="255.81" cy="777.0" rx="2.9700000000000006" ry="4.32" fill="#c8c8c8" filter="url(#b05)"/>
<rect x="223.0" y="747.0" width="43.2" height="113.5" fill="#fff" filter="url(#fur)" opacity="0.2"/>
<rect x="223.0" y="842" width="43.19999999999999" height="19" fill="#9a9a9a" filter="url(#b1)"/>
<ellipse cx="244.5" cy="856" rx="4" ry="6" fill="#d8d8d8" filter="url(#b1)"/>
<ellipse cx="229" cy="856" rx="5" ry="4" fill="#3a3a3a" filter="url(#b1)"/>
<ellipse cx="260" cy="856" rx="5" ry="4" fill="#3a3a3a" filter="url(#b1)"/>
<ellipse cx="244.7" cy="824" rx="5" ry="4" fill="#e8e8e8" filter="url(#b05)"/>
<ellipse cx="234.0" cy="835.5" rx="14.6" ry="13.2" fill="#dca8ff" filter="url(#b1)"/>
<ellipse cx="255.5" cy="836.0" rx="14.1" ry="13.0" fill="#dca8ff" filter="url(#b1)"/>
<ellipse cx="234.0" cy="835.5" rx="14.0" ry="12.6" fill="#7400ff" filter="url(#b05)"/>
<ellipse cx="255.5" cy="836.0" rx="13.5" ry="12.4" fill="#7400ff" filter="url(#b05)"/>
<ellipse cx="233" cy="833" rx="5" ry="5" fill="#2a00ff" filter="url(#b2)"/>
<ellipse cx="257" cy="835" rx="4" ry="4" fill="#5000ff" filter="url(#b2)"/>
</g>
<clipPath id="clip13"><rect x="276.2" y="747.0" width="43.0" height="113.5"/></clipPath>
<g clip-path="url(#clip13)">
<rect x="276.2" y="747.0" width="43.0" height="113.5" fill="#2c2c2c"/>
<path d="M297.0,753.0 C300.0,753.5 311.2,762.0 320.2,772.0 L320.2,821.9 L275.2,821.9 L275.2,772.0 C284.2,762.0 294.0,753.5 297.0,753.0 Z" fill="#1e1e1e" filter="url(#b1)"/>
<ellipse cx="284.6" cy="774.4" rx="5.2" ry="5.4" fill="#7e7e7e" filter="url(#b05)"/><ellipse cx="286.42" cy="774.4" rx="2.8600000000000003" ry="4.32" fill="#c0c0c0" filter="url(#b05)"/>
<ellipse cx="310.4" cy="774.0" rx="5.0" ry="5.4" fill="#7e7e7e" filter="url(#b05)"/><ellipse cx="308.65" cy="774.0" rx="2.75" ry="4.32" fill="#c4c4c4" filter="url(#b05)"/>
<rect x="276.2" y="747.0" width="43.0" height="113.5" fill="#fff" filter="url(#fur)" opacity="0.18"/>
<path d="M274.2,829 C282.2,820.8 289.7,822 297.7,822 C305.7,822 313.2,820.8 321.2,829 L320.2,850.5 C315.2,856.5 303.7,861.5 297.7,862.5 C291.7,861.5 280.2,856.5 275.2,850.5 Z" fill="#efefef" filter="url(#b1)"/>
<path d="M275.2,861.5 L275.2,850 C284,852 288,856 290,861.5 Z" fill="#3a3a3a" filter="url(#b1)"/>
<path d="M320.2,861.5 L320.2,850 C311,852 307,856 305,861.5 Z" fill="#3a3a3a" filter="url(#b1)"/>
<ellipse cx="287.9" cy="836.6" rx="7.7" ry="9.7" fill="#dca8ff" filter="url(#b1)"/>
<ellipse cx="308.4" cy="836.0" rx="8.2" ry="10.7" fill="#dca8ff" filter="url(#b1)"/>
<ellipse cx="287.9" cy="836.6" rx="7.0" ry="9.0" fill="#7400ff" filter="url(#b05)"/>
<ellipse cx="308.4" cy="836.0" rx="7.5" ry="10.0" fill="#7400ff" filter="url(#b05)"/>
</g>
<clipPath id="clip14"><rect x="329.0" y="747.0" width="41.4" height="113.5"/></clipPath>
<g clip-path="url(#clip14)">
<rect x="329.0" y="747.0" width="41.39999999999998" height="113.5" fill="#2e2e2e"/>
<path d="M350.0,754.0 C353.0,754.5 362.4,762.0 371.4,772.0 L371.4,824.2 L328.0,824.2 L328.0,772.0 C337.0,762.0 347.0,754.5 350.0,754.0 Z" fill="#1f1f1f" filter="url(#b1)"/>
<ellipse cx="342.5" cy="777.0" rx="5.4" ry="5.4" fill="#8a8a8a" filter="url(#b05)"/><ellipse cx="344.39" cy="777.0" rx="2.9700000000000006" ry="4.32" fill="#cccccc" filter="url(#b05)"/>
<ellipse cx="366.0" cy="776.0" rx="4.0" ry="5.2" fill="#7e7e7e" filter="url(#b05)"/><ellipse cx="364.6" cy="776.0" rx="2.2" ry="4.16" fill="#bcbcbc" filter="url(#b05)"/>
<rect x="329.0" y="747.0" width="41.4" height="113.5" fill="#fff" filter="url(#fur)" opacity="0.2"/>
<path d="M327.0,832 C335.0,823.8 341.7,825 349.7,825 C357.7,825 364.4,823.8 372.4,832 L371.4,850.5 C366.4,856.5 355.7,861.5 349.7,862.5 C343.7,861.5 333.0,856.5 328.0,850.5 Z" fill="#ececec" filter="url(#b1)"/>
<ellipse cx="340" cy="861" rx="10" ry="4" fill="#3a3a3a" filter="url(#b1)"/>
<ellipse cx="340.5" cy="838.0" rx="9.7" ry="11.2" fill="#dca8ff" filter="url(#b1)" transform="rotate(-15 340.5 838.0)"/>
<ellipse cx="362.4" cy="840.0" rx="7.7" ry="8.7" fill="#dca8ff" filter="url(#b1)"/>
<ellipse cx="340.5" cy="838.0" rx="9.0" ry="10.5" fill="#7400ff" filter="url(#b05)" transform="rotate(-15 340.5 838.0)"/>
<ellipse cx="362.4" cy="840.0" rx="7.0" ry="8.0" fill="#7400ff" filter="url(#b05)"/>
</g>
<rect x="383.7" y="611.9000000000001" width="21.4" height="249.4" fill="url(#cbar)" stroke="#111" stroke-width="1.4"/>
<line x1="406.2" y1="613.00" x2="416.2" y2="613.00" stroke="#111" stroke-width="1.4"/>
<line x1="406.2" y1="621.24" x2="411.3" y2="621.24" stroke="#111" stroke-width="1.4"/>
<line x1="406.2" y1="629.48" x2="411.3" y2="629.48" stroke="#111" stroke-width="1.4"/>
<line x1="406.2" y1="637.72" x2="411.3" y2="637.72" stroke="#111" stroke-width="1.4"/>
<line x1="406.2" y1="645.96" x2="411.3" y2="645.96" stroke="#111" stroke-width="1.4"/>
<line x1="406.2" y1="654.20" x2="416.2" y2="654.20" stroke="#111" stroke-width="1.4"/>
<line x1="406.2" y1="662.44" x2="411.3" y2="662.44" stroke="#111" stroke-width="1.4"/>
<line x1="406.2" y1="670.68" x2="411.3" y2="670.68" stroke="#111" stroke-width="1.4"/>
<line x1="406.2" y1="678.92" x2="411.3" y2="678.92" stroke="#111" stroke-width="1.4"/>
<line x1="406.2" y1="687.16" x2="411.3" y2="687.16" stroke="#111" stroke-width="1.4"/>
<line x1="406.2" y1="695.40" x2="416.2" y2="695.40" stroke="#111" stroke-width="1.4"/>
<line x1="406.2" y1="703.64" x2="411.3" y2="703.64" stroke="#111" stroke-width="1.4"/>
<line x1="406.2" y1="711.88" x2="411.3" y2="711.88" stroke="#111" stroke-width="1.4"/>
<line x1="406.2" y1="720.12" x2="411.3" y2="720.12" stroke="#111" stroke-width="1.4"/>
<line x1="406.2" y1="728.36" x2="411.3" y2="728.36" stroke="#111" stroke-width="1.4"/>
<line x1="406.2" y1="736.60" x2="416.2" y2="736.60" stroke="#111" stroke-width="1.4"/>
<line x1="406.2" y1="744.84" x2="411.3" y2="744.84" stroke="#111" stroke-width="1.4"/>
<line x1="406.2" y1="753.08" x2="411.3" y2="753.08" stroke="#111" stroke-width="1.4"/>
<line x1="406.2" y1="761.32" x2="411.3" y2="761.32" stroke="#111" stroke-width="1.4"/>
<line x1="406.2" y1="769.56" x2="411.3" y2="769.56" stroke="#111" stroke-width="1.4"/>
<line x1="406.2" y1="777.80" x2="416.2" y2="777.80" stroke="#111" stroke-width="1.4"/>
<line x1="406.2" y1="786.04" x2="411.3" y2="786.04" stroke="#111" stroke-width="1.4"/>
<line x1="406.2" y1="794.28" x2="411.3" y2="794.28" stroke="#111" stroke-width="1.4"/>
<line x1="406.2" y1="802.52" x2="411.3" y2="802.52" stroke="#111" stroke-width="1.4"/>
<line x1="406.2" y1="810.76" x2="411.3" y2="810.76" stroke="#111" stroke-width="1.4"/>
<line x1="406.2" y1="819.00" x2="416.2" y2="819.00" stroke="#111" stroke-width="1.4"/>
<line x1="406.2" y1="827.24" x2="411.3" y2="827.24" stroke="#111" stroke-width="1.4"/>
<line x1="406.2" y1="835.48" x2="411.3" y2="835.48" stroke="#111" stroke-width="1.4"/>
<line x1="406.2" y1="843.72" x2="411.3" y2="843.72" stroke="#111" stroke-width="1.4"/>
<line x1="406.2" y1="851.96" x2="411.3" y2="851.96" stroke="#111" stroke-width="1.4"/>
<line x1="406.2" y1="860.20" x2="416.2" y2="860.20" stroke="#111" stroke-width="1.4"/>
<text transform="translate(422.02,615.72) scale(1.1348,1)" font-size="12.86" font-weight="normal" fill="#222">60000</text>
<text transform="translate(422.17,656.92) scale(1.1306,1)" font-size="12.86" font-weight="normal" fill="#222">50000</text>
<text transform="translate(422.42,698.12) scale(1.1233,1)" font-size="12.86" font-weight="normal" fill="#222">40000</text>
<text transform="translate(422.21,739.32) scale(1.1296,1)" font-size="12.86" font-weight="normal" fill="#222">30000</text>
<text transform="translate(422.02,780.52) scale(1.1348,1)" font-size="12.86" font-weight="normal" fill="#222">20000</text>
<text transform="translate(421.65,821.72) scale(1.1454,1)" font-size="12.86" font-weight="normal" fill="#222">10000</text>
<text transform="translate(422.46,862.92) scale(0.9444,1)" font-size="12.86" font-weight="normal" fill="#222">0</text>
<text transform="translate(480.19,611.81) rotate(90) scale(1.0201,1)" font-size="20.91" font-weight="bold" fill="#000">Relative Light Units (RLU)</text>
<text transform="translate(122.52,885.22) scale(0.9918,1)" font-size="23.32" font-weight="bold" fill="#000">0.2</text>
<text transform="translate(187.06,884.95) scale(0.9899,1)" font-size="22.94" font-weight="bold" fill="#000">2</text>
<text transform="translate(240.29,884.95) scale(0.9691,1)" font-size="23.27" font-weight="bold" fill="#000">7</text>
<text transform="translate(288.43,885.45) scale(0.8892,1)" font-size="23.08" font-weight="bold" fill="#000">21</text>
<text transform="translate(339.35,885.22) scale(1.0008,1)" font-size="22.76" font-weight="bold" fill="#000">28</text>
<text transform="translate(378.23,885.60) scale(0.9791,1)" font-size="23.38" font-weight="bold" fill="#000">days</text>
</g>
</svg>
</body></html>
